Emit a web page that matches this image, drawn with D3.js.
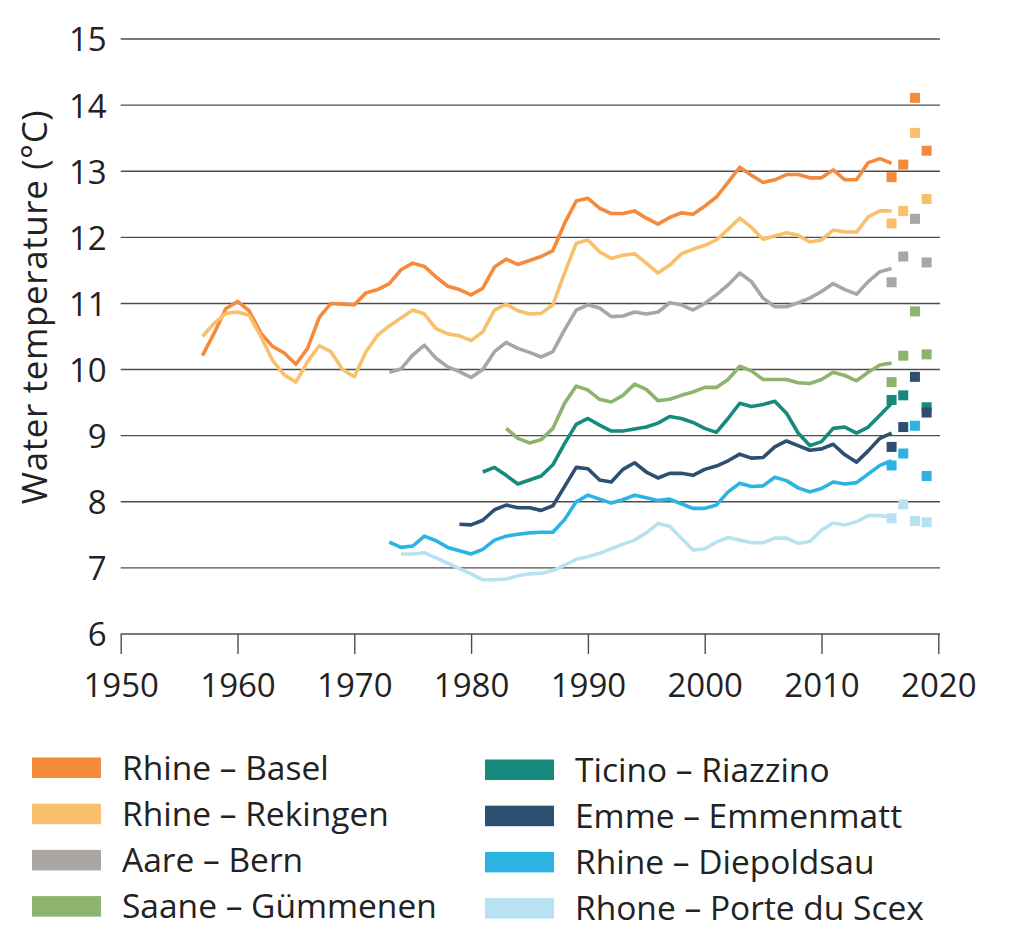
<!DOCTYPE html>
<html><head><meta charset="utf-8">
<script src="https://cdn.jsdelivr.net/npm/d3@7/dist/d3.min.js"></script>
<style>
html,body{margin:0;padding:0;background:#fff;}
svg{display:block;}
text{font-family:"Open Sans",sans-serif;fill:#222;}
</style></head>
<body>
<svg id="chart" width="1024" height="939"></svg>
<script>
// ---- data ----
const seriesNames = ["Rhine – Basel","Rhine – Rekingen","Aare – Bern","Saane – Gümmenen",
  "Ticino – Riazzino","Emme – Emmenmatt","Rhine – Diepoldsau","Rhone – Porte du Scex"];
const seriesColors = ["#F58A3C","#F8C06D","#A9A6A4","#8DB46E","#168A7C","#2E4E72","#2BB4E3","#B8E2F1"];
const startYears = [1957,1957,1973,1983,1981,1979,1973,1974];

const rhineBasel = [10.21,10.55,10.92,11.03,10.89,10.55,10.35,10.25,10.08,10.32,
  10.79,11.0,10.99,10.98,11.16,11.21,11.30,11.51,11.61,11.56,
  11.40,11.26,11.21,11.13,11.23,11.55,11.67,11.59,11.65,11.71,
  11.80,12.21,12.55,12.59,12.44,12.36,12.36,12.40,12.29,12.20,
  12.30,12.37,12.35,12.47,12.61,12.83,13.06,12.94,12.83,12.87,
  12.95,12.95,12.90,12.90,13.02,12.87,12.87,13.13,13.19,13.12];
const rhineRekingen = [10.50,10.70,10.85,10.87,10.82,10.50,10.14,9.92,9.81,10.12,
  10.36,10.27,10.00,9.89,10.27,10.52,10.66,10.78,10.90,10.84,
  10.62,10.54,10.51,10.44,10.57,10.90,10.99,10.89,10.84,10.85,
  10.98,11.46,11.91,11.96,11.78,11.68,11.73,11.75,11.61,11.46,
  11.58,11.75,11.82,11.88,11.96,12.12,12.29,12.15,11.97,12.02,
  12.07,12.03,11.93,11.96,12.11,12.08,12.08,12.31,12.40,12.40];
const aareBern = [9.96,10.01,10.22,10.37,10.17,10.04,9.97,9.88,10.00,10.27,
  10.41,10.32,10.26,10.19,10.27,10.60,10.90,10.98,10.93,10.80,
  10.81,10.87,10.84,10.87,11.01,10.98,10.90,11.00,11.13,11.28,
  11.46,11.33,11.08,10.95,10.95,11.01,11.08,11.18,11.30,11.21,
  11.14,11.33,11.48,11.53];
const saane = [9.11,8.96,8.89,8.94,9.11,9.49,9.75,9.69,9.55,9.51,
  9.61,9.78,9.70,9.53,9.55,9.61,9.66,9.73,9.73,9.85,
  10.05,9.98,9.85,9.85,9.85,9.80,9.79,9.85,9.96,9.91,
  9.83,9.96,10.07,10.10];
const ticino = [8.45,8.52,8.40,8.27,8.33,8.39,8.56,8.88,9.17,9.26,
  9.16,9.07,9.07,9.10,9.13,9.19,9.29,9.26,9.20,9.11,
  9.05,9.26,9.49,9.44,9.47,9.52,9.34,9.04,8.85,8.91,
  9.11,9.13,9.04,9.13,9.31,9.49];
const emme = [7.66,7.65,7.72,7.88,7.95,7.91,7.91,7.87,7.94,8.23,
  8.52,8.50,8.33,8.30,8.49,8.59,8.45,8.36,8.43,8.43,
  8.40,8.49,8.54,8.62,8.72,8.66,8.67,8.83,8.92,8.85,
  8.78,8.80,8.87,8.71,8.60,8.77,8.96,9.04];
const diepoldsau = [7.39,7.31,7.33,7.48,7.41,7.31,7.26,7.21,7.28,7.42,
  7.48,7.51,7.53,7.54,7.54,7.73,8.00,8.10,8.04,7.98,
  8.03,8.10,8.06,8.02,8.04,7.97,7.90,7.90,7.95,8.15,
  8.28,8.23,8.24,8.37,8.32,8.21,8.15,8.20,8.30,8.27,
  8.29,8.42,8.55,8.62];
const rhone = [7.21,7.21,7.23,7.15,7.07,6.99,6.91,6.82,6.82,6.83,
  6.88,6.91,6.92,6.96,7.04,7.13,7.17,7.22,7.29,7.36,
  7.42,7.53,7.67,7.63,7.45,7.27,7.29,7.39,7.46,7.42,
  7.38,7.38,7.45,7.45,7.37,7.40,7.57,7.68,7.65,7.70,
  7.79,7.79,7.77];

// single-year points 2016-2019
const pointYears = [2016,2017,2018,2019];
const ptBasel = [12.91,13.10,14.11,13.31];
const ptRekingen = [12.21,12.40,13.58,12.58];
const ptAare = [11.32,11.71,12.28,11.62];
const ptSaane = [9.81,10.21,10.88,10.23];
const ptTicino = [9.54,9.61,null,9.43];
const ptEmme = [8.83,9.13,9.89,9.35];
const ptDiepoldsau = [8.55,8.73,9.15,8.39];
const ptRhone = [7.75,7.96,7.71,7.69];

const xTicks = [1950,1960,1970,1980,1990,2000,2010,2020];
const yTicks = [6,7,8,9,10,11,12,13,14,15];
const yTitle = "Water temperature (°C)";

const lineValues = [rhineBasel,rhineRekingen,aareBern,saane,ticino,emme,diepoldsau,rhone];
const pointValues = [ptBasel,ptRekingen,ptAare,ptSaane,ptTicino,ptEmme,ptDiepoldsau,ptRhone];

// ---- drawing ----
const svg = d3.select("#chart");
const x = d3.scaleLinear().domain([1950,2020]).range([120.7,938.3]);
const y = d3.scaleLinear().domain([6,15]).range([634,39]);

// gridlines
svg.append("g").selectAll("line").data(yTicks).join("line")
  .attr("x1",x(1950)).attr("x2",940)
  .attr("y1",d=>y(d)).attr("y2",d=>y(d))
  .attr("stroke","#4d4d4d").attr("stroke-width",1.4);

// y axis labels
const yAxis = d3.axisLeft(y).tickValues(yTicks).tickSize(0).tickPadding(14);
const gy = svg.append("g").attr("transform",`translate(${x(1950)},0)`).call(yAxis);
gy.select(".domain").remove();
gy.selectAll("text").style("font-family","'Open Sans',sans-serif").style("font-size","33px").attr("fill","#222").attr("dy","0.36em");

// x axis
const xAxis = d3.axisBottom(x).tickValues(xTicks).tickFormat(d3.format("d")).tickSize(20).tickPadding(20);
const gx = svg.append("g").attr("transform",`translate(0,${y(6)})`).call(xAxis);
gx.select(".domain").remove();
gx.selectAll("line").attr("stroke","#4d4d4d").attr("stroke-width",1.4);
gx.selectAll("text").style("font-family","'Open Sans',sans-serif").style("font-size","33px").attr("fill","#222");

// y title
svg.append("text").attr("transform",`translate(47,307) rotate(-90)`)
  .attr("text-anchor","middle").style("font-size","35px").style("letter-spacing","0.6px").text(yTitle);

// lines
const line = d3.line().x(d=>x(d[0])).y(d=>y(d[1]));
lineValues.forEach((vals,i)=>{
  const pts = vals.map((v,k)=>[startYears[i]+k,v]);
  svg.append("path").datum(pts).attr("d",line)
    .attr("fill","none").attr("stroke",seriesColors[i]).attr("stroke-width",3.6)
    .attr("stroke-linejoin","round");
});

// squares
const sq = 10;
pointValues.forEach((vals,i)=>{
  const pts = vals.map((v,k)=>[pointYears[k],v]).filter(d=>d[1]!==null);
  svg.append("g").selectAll("rect").data(pts).join("rect")
    .attr("x",d=>x(d[0])-sq/2).attr("y",d=>y(d[1])-sq/2)
    .attr("width",sq).attr("height",sq).attr("fill",seriesColors[i]);
});

// legend
const legX = [32,485], legY0 = 757.5, legDY = 46.2;
seriesNames.forEach((name,i)=>{
  const col = Math.floor(i/4), row = i%4;
  const gx0 = legX[col], gy0 = legY0 + row*legDY + (col===1?2:0);
  svg.append("rect").attr("x",gx0).attr("y",gy0).attr("width",69).attr("height",20.5).attr("fill",seriesColors[i]);
  svg.append("text").attr("x",gx0+90).attr("y",gy0+22).style("font-size","33.5px").text(name);
});
</script>
</body></html>
